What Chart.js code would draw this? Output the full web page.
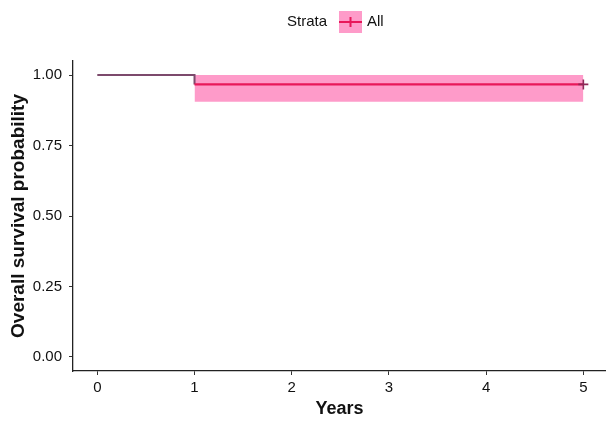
<!DOCTYPE html>
<html>
<head>
<meta charset="utf-8">
<script src="https://cdn.jsdelivr.net/npm/chart.js@4/dist/chart.umd.min.js"></script>
<style>
  html, body { margin: 0; padding: 0; background: #ffffff; }
  #wrap { width: 606px; height: 429px; }
</style>
</head>
<body>
<div id="wrap"><canvas id="c" width="606" height="429"></canvas></div>
<script>
// ---- data ----
const times = [0, 1, 5];
const survival = [1.0, 0.967, 0.967];
const ciTimes = [1, 5];
const ciUpper = [1.0, 1.0];
const ciLower = [0.905, 0.905];
const censorTimes = [5];
const censorSurv = [0.967];
const xTicks = [0, 1, 2, 3, 4, 5];
const yTicks = [0, 0.25, 0.5, 0.75, 1];
const yTickLabels = ['0.00', '0.25', '0.50', '0.75', '1.00'];
const legendTitle = 'Strata';
const strataName = 'All';
const xTitle = 'Years';
const yTitle = 'Overall survival probability';

const bandColor = 'rgba(254,150,198,0.95)';
const lineColor = '#e8185a';
const lineColorEarly = '#7c4a6c';

const toXY = (xs, ys) => xs.map((x, i) => ({ x: x, y: ys[i] }));

const legendPlugin = {
  id: 'stratalegend',
  afterDraw(chart) {
    const ctx = chart.ctx;
    ctx.save();
    ctx.font = '15px "Liberation Sans", Arial, sans-serif';
    ctx.fillStyle = '#111';
    ctx.textBaseline = 'middle';
    ctx.textAlign = 'left';
    const cy = 22;
    ctx.fillText(legendTitle, 287, cy);
    // key box
    ctx.fillStyle = bandColor;
    ctx.fillRect(339, 11, 23, 22);
    ctx.strokeStyle = lineColor;
    ctx.lineWidth = 2;
    ctx.beginPath();
    ctx.moveTo(339, cy); ctx.lineTo(362, cy);
    ctx.moveTo(350.5, cy - 5); ctx.lineTo(350.5, cy + 5);
    ctx.stroke();
    ctx.fillStyle = '#111';
    ctx.fillText(strataName, 367, cy);
    ctx.restore();
  }
};

new Chart(document.getElementById('c'), {
  type: 'line',
  data: {
    datasets: [
      {
        label: strataName,
        data: toXY(times, survival),
        stepped: 'before',
        borderColor: lineColor,
        borderWidth: 2.4,
        pointRadius: 0,
        fill: false,
        order: 1,
        segment: {
          borderColor: c => (c.p0DataIndex === 0 ? lineColorEarly : undefined),
          borderWidth: c => (c.p0DataIndex === 0 ? 2 : undefined)
        }
      },
      {
        label: 'censor',
        data: toXY(censorTimes, censorSurv),
        showLine: false,
        pointStyle: 'cross',
        pointRadius: 5,
        pointBorderWidth: 1.6,
        pointBorderColor: '#8e2a58',
        pointBackgroundColor: '#8e2a58',
        order: 0
      },
      {
        label: 'upper',
        data: toXY(ciTimes, ciUpper),
        borderWidth: 0,
        borderColor: 'rgba(0,0,0,0)',
        pointRadius: 0,
        backgroundColor: bandColor,
        fill: '+1',
        order: 3
      },
      {
        label: 'lower',
        data: toXY(ciTimes, ciLower),
        borderWidth: 0,
        borderColor: 'rgba(0,0,0,0)',
        pointRadius: 0,
        fill: false,
        order: 4
      }
    ]
  },
  options: {
    responsive: false,
    animation: false,
    devicePixelRatio: 1,
    layout: { autoPadding: false, padding: { top: 61, right: 0, left: 0, bottom: 0 } },
    plugins: {
      legend: { display: false },
      tooltip: { enabled: false }
    },
    scales: {
      x: {
        type: 'linear',
        min: -0.25,
        max: 5.233,
        afterBuildTicks: s => { s.ticks = xTicks.map(v => ({ value: v })); },
        afterFit: s => { s.height = 58; s.paddingRight = 0; s.paddingLeft = 0; },
        grid: { drawOnChartArea: false, drawTicks: true, tickLength: 4, color: '#333', lineWidth: 1 },
        border: { display: true, color: '#222', width: 1.3 },
        ticks: {
          color: '#111',
          padding: 4,
          maxRotation: 0,
          font: { family: '"Liberation Sans", Arial, sans-serif', size: 15 },
          callback: v => String(v)
        },
        title: {
          display: true,
          text: xTitle,
          color: '#111',
          padding: { top: 0, bottom: 9 },
          font: { family: '"Liberation Sans", Arial, sans-serif', size: 18, weight: 'bold' }
        }
      },
      y: {
        type: 'linear',
        min: -0.05,
        max: 1.05,
        afterBuildTicks: s => { s.ticks = yTicks.map(v => ({ value: v })); },
        afterFit: s => { s.width = 73; s.paddingTop = 0; s.paddingBottom = 0; },
        grid: { drawOnChartArea: false, drawTicks: true, tickLength: 4, color: '#333', lineWidth: 1 },
        border: { display: true, color: '#222', width: 1.3 },
        ticks: {
          color: '#111',
          padding: 7,
          font: { family: '"Liberation Sans", Arial, sans-serif', size: 15 },
          callback: v => {
            const i = yTicks.indexOf(v);
            return i >= 0 ? yTickLabels[i] : '';
          }
        },
        title: {
          display: true,
          text: yTitle,
          color: '#111',
          padding: { top: 7, bottom: 0 },
          font: { family: '"Liberation Sans", Arial, sans-serif', size: 19, weight: 'bold' }
        }
      }
    }
  },
  plugins: [legendPlugin]
});
</script>
</body>
</html>
